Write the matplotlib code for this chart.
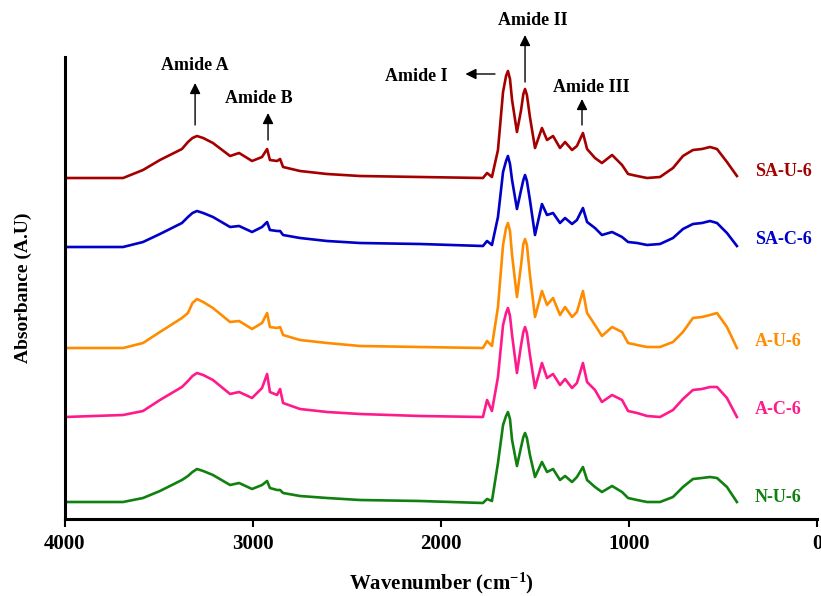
import matplotlib
matplotlib.use("Agg")
import matplotlib.pyplot as plt

plt.rcParams['font.family'] = ['Liberation Serif', 'DejaVu Serif']
plt.rcParams['font.weight'] = 'bold'
plt.rcParams['mathtext.fontset'] = 'custom'
plt.rcParams['mathtext.rm'] = 'Liberation Serif:bold'
plt.rcParams['mathtext.bf'] = 'Liberation Serif:bold'
plt.rcParams['mathtext.it'] = 'Liberation Serif:bold'

wavenumber = [4000, 3691, 3585, 3495, 3378, 3346, 3322, 3298, 3265, 3213, 3122, 3074,
              3005, 2952, 2925, 2910, 2872, 2856, 2840, 2750, 2606, 2431,
              2112, 1777, 1755, 1729, 1697, 1670, 1654, 1644, 1633, 1622, 1596, 1574,
              1562, 1553, 1543, 1527, 1500, 1463, 1436, 1404, 1367, 1340, 1303, 1277,
              1245, 1223, 1181, 1144, 1090, 1037, 1005, 957, 904, 835,
              766, 713, 660, 612, 569, 532, 479, 426]

sa_u_6 = [341, 341, 349, 359, 370, 377, 381, 383, 381, 376, 363, 366,
          358, 362, 370, 359, 358, 360, 352, 348, 345, 343,
          342, 341, 346, 342, 369, 427, 443, 448, 440, 419, 387, 409,
          425, 430, 424, 402, 371, 391, 379, 383, 371, 377, 369, 373,
          386, 370, 361, 356, 364, 354, 345, 343, 341, 342,
          351, 363, 369, 370, 372, 370, 357, 343]

sa_c_6 = [272, 272, 277, 285, 296, 302, 306, 308, 306, 302, 292, 293,
          287, 292, 297, 289, 288, 288, 284, 281, 278, 276,
          275, 273, 278, 274, 302, 347, 358, 363, 355, 339, 310, 329,
          339, 344, 338, 319, 284, 315, 304, 306, 296, 301, 295, 299,
          311, 297, 291, 284, 287, 282, 277, 276, 274, 275,
          281, 290, 295, 296, 298, 296, 286, 273]

a_u_6 = [171, 171, 176, 187, 201, 206, 216, 220, 217, 211, 197, 198,
         190, 196, 206, 192, 191, 192, 184, 179, 176, 173,
         172, 171, 178, 173, 212, 274, 291, 296, 288, 264, 222, 254,
         275, 280, 274, 244, 202, 228, 214, 221, 204, 212, 202, 207,
         228, 206, 194, 183, 192, 187, 176, 174, 172, 172,
         177, 187, 201, 202, 204, 206, 192, 171]

a_c_6 = [102, 104, 108, 119, 132, 138, 143, 146, 144, 139, 125, 127,
         121, 131, 145, 127, 124, 130, 116, 110, 107, 105,
         103, 102, 119, 108, 142, 194, 206, 211, 203, 184, 146, 174,
         187, 192, 186, 164, 131, 156, 141, 145, 134, 140, 131, 136,
         156, 137, 129, 117, 124, 119, 108, 106, 103, 102,
         109, 120, 129, 130, 132, 132, 121, 102]

n_u_6 = [17, 17, 21, 28, 39, 43, 47, 50, 48, 44, 34, 36,
         30, 34, 38, 31, 29, 29, 26, 23, 21, 19,
         18, 16, 20, 18, 56, 94, 103, 107, 100, 79, 53, 72,
         82, 86, 81, 64, 42, 57, 47, 50, 39, 43, 37, 42,
         52, 39, 32, 27, 33, 27, 21, 19, 17, 17,
         22, 32, 40, 41, 42, 41, 32, 17]

series_names = ['SA-U-6', 'SA-C-6', 'A-U-6', 'A-C-6', 'N-U-6']
series_values = [sa_u_6, sa_c_6, a_u_6, a_c_6, n_u_6]
series_colors = ['#A50000', '#0000C8', '#FF8C00', '#FF1A8C', '#108010']
label_y = [347, 279, 177, 109, 22]

xticks = [4000, 3000, 2000, 1000, 0]

# annotations: (text, text_x, text_y, arrow_tail, arrow_tip)
annotations = [
    ('Amide A', 3308, 453, (3308, 394), (3308, 436)),
    ('Amide B', 2968, 420, (2920, 379), (2920, 406)),
    ('Amide I', 2133, 442, (1713, 445), (1870, 445)),
    ('Amide II', 1511, 498, (1553, 437), (1553, 484)),
    ('Amide III', 1202, 431, (1250, 394), (1250, 420)),
]

fig = plt.figure(figsize=(8.21, 5.96), dpi=100)
ax = fig.add_axes([65/821, 77/596, 752/821, 462/596])

for name, vals, col, ly in zip(series_names, series_values, series_colors, label_y):
    ax.plot(wavenumber, vals, color=col, lw=1.9, solid_joinstyle='round')
    ax.text(330, ly, name, color=col, fontsize=13, fontweight='bold',
            ha='left', va='center', clip_on=False)

for txt, tx, ty, tail, tip in annotations:
    ax.annotate('', xy=tip, xytext=tail, annotation_clip=False,
                arrowprops=dict(arrowstyle='-|>', color='black', lw=1.0,
                                mutation_scale=16, shrinkA=0, shrinkB=0))
    ax.text(tx, ty, txt, fontsize=13, fontweight='bold', ha='center',
            va='center', clip_on=False)

ax.set_xlim(4000, 0)
ax.set_ylim(0, 462)
ax.set_xticks(xticks)
ax.set_xticklabels([str(t) for t in xticks])
ax.set_yticks([])
ax.tick_params(axis='x', direction='out', length=6, width=1.5, labelsize=15, pad=5)
for s in ['top', 'right']:
    ax.spines[s].set_visible(False)
ax.spines['left'].set_linewidth(2.2)
ax.spines['bottom'].set_linewidth(2.2)

ax.set_xlabel(r'Wavenumber (cm$^{-1}$)', fontsize=15, fontweight='bold', labelpad=12)
ax.set_ylabel('Absorbance (A.U)', fontsize=14, fontweight='bold', labelpad=24)

fig.savefig('out.png', dpi=100)
